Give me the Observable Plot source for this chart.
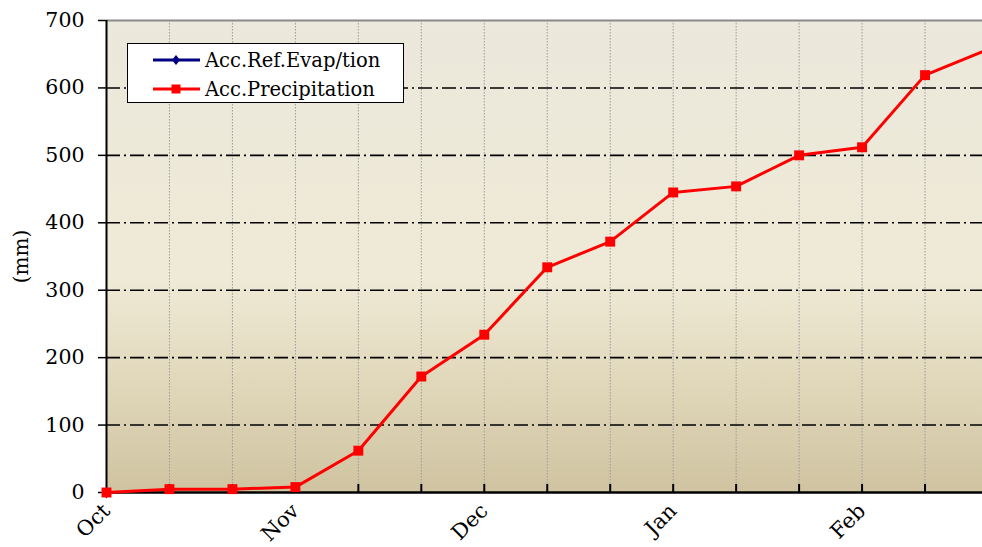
<!DOCTYPE html>
<html>
<head>
<meta charset="utf-8">
<script src="https://cdn.jsdelivr.net/npm/d3@7"></script>
<script src="https://cdn.jsdelivr.net/npm/@observablehq/plot@0.6"></script>
<style>
  body { margin: 0; background: #fff; }
  #wrap { position: relative; width: 982px; height: 547px; overflow: hidden; }
  #legend {
    position: absolute; left: 127px; top: 43px; width: 275px; height: 58px;
    background: #fff; border: 1.5px solid #000;
    font-family: "DejaVu Serif", serif; font-size: 19.5px; color: #000;
  }
  .row { position: absolute; left: 0; height: 24px; display: flex; align-items: center; white-space: nowrap; }
  .row svg { margin-left: 25px; margin-right: 5px; }
</style>
</head>
<body>
<div id="wrap"><div id="legend"></div></div>
<script>
// ---- data ----
const periods = [0, 1, 2, 3, 4, 5, 6, 7, 8, 9, 10, 11, 12, 13, 14];
const monthTicks = [0, 3, 6, 9, 12];
const monthLabels = ["Oct", "Nov", "Dec", "Jan", "Feb"];
const precipitation = [0, 5, 5, 8, 62, 172, 234, 334, 372, 445, 454, 500, 512, 619, 657];
const evapotranspiration = [0];
const yTicks = [0, 100, 200, 300, 400, 500, 600, 700];
const seriesNames = ["Acc.Ref.Evap/tion", "Acc.Precipitation"];
const seriesColors = ["#000080", "#ff0000"];

const precipData = periods.map((p, i) => ({p, v: precipitation[i]}));
const evapData = evapotranspiration.map((v, i) => ({p: periods[i], v}));

const gradient = () => {
  const defs = d3.create("svg:defs");
  const lg = defs.append("linearGradient").attr("id", "bg")
    .attr("x1", 0).attr("y1", 0).attr("x2", 0).attr("y2", 1);
  [["0%", "#ebe8dc"], ["55%", "#efead6"], ["75%", "#e2d9bd"], ["100%", "#cfc3a0"]]
    .forEach(([o, c]) => lg.append("stop").attr("offset", o).attr("stop-color", c));
  return defs.node();
};

const chart = Plot.plot({
  width: 982,
  height: 547,
  marginLeft: 106,
  marginRight: 0,
  marginTop: 20,
  marginBottom: 55,
  style: {fontFamily: "DejaVu Serif, serif", background: "transparent", color: "#000"},
  x: {domain: [0, 14], range: [106, 987.5]},
  y: {domain: [0, 700]},
  marks: [
    gradient,
    Plot.frame({fill: "url(#bg)", stroke: null}),
    Plot.gridX(periods.slice(1), {stroke: "#9a9a9a", strokeOpacity: 1, strokeDasharray: "1.5,1.5"}),
    Plot.ruleY(yTicks.filter(v => v > 0 && v < 700), {stroke: "#000", strokeWidth: 1.6, strokeDasharray: "14,4,2,4"}),
    Plot.ruleY([700], {stroke: "#8a8a8a", strokeWidth: 2}),
    Plot.ruleX(periods.slice(1), {x: d => d, stroke: "#000", strokeWidth: 2, insetTop: 464}),
    Plot.ruleX([0], {stroke: "#000", strokeWidth: 2}),
    Plot.ruleY([0], {stroke: "#000", strokeWidth: 2.5}),
    Plot.axisY({ticks: yTicks, tickSize: 8, tickPadding: 14, fontSize: 20.5, label: null, strokeWidth: 1.5}),
    Plot.axisX({ticks: monthTicks, tickFormat: d => monthLabels[monthTicks.indexOf(d)], tickRotate: -45,
      tickSize: 0, tickPadding: 15, fontSize: 21, label: null}),
    Plot.text(["(mm)"], {frameAnchor: "left", textAnchor: "middle", rotate: -90, dx: -85, fontSize: 20}),
    Plot.dot(evapData, {x: "p", y: "v", symbol: "diamond", r: 3.6, fill: seriesColors[0], stroke: null}),
    Plot.line(precipData, {x: "p", y: "v", stroke: seriesColors[1], strokeWidth: 3}),
    Plot.dot(precipData, {x: "p", y: "v", symbol: "square", r: 5.6, fill: seriesColors[1], stroke: null})
  ]
});
const wrap = document.getElementById("wrap");
wrap.insertBefore(chart, wrap.firstChild);

// legend
const legend = document.getElementById("legend");
const markers = ["diamond", "square"];
seriesNames.forEach((name, i) => {
  const row = document.createElement("div");
  row.className = "row";
  row.style.top = (i === 0 ? 4 : 33) + "px";
  const sym = markers[i] === "diamond"
    ? `<path d="M23,0 L27,5 L23,10 L19,5 Z" fill="${seriesColors[i]}"/>`
    : `<rect x="18.5" y="0.5" width="9" height="9" fill="${seriesColors[i]}"/>`;
  row.innerHTML = `<svg width="47" height="10"><line x1="0" x2="47" y1="5" y2="5" stroke="${seriesColors[i]}" stroke-width="3"/>${sym}</svg><span>${name}</span>`;
  legend.appendChild(row);
});
</script>
</body>
</html>
